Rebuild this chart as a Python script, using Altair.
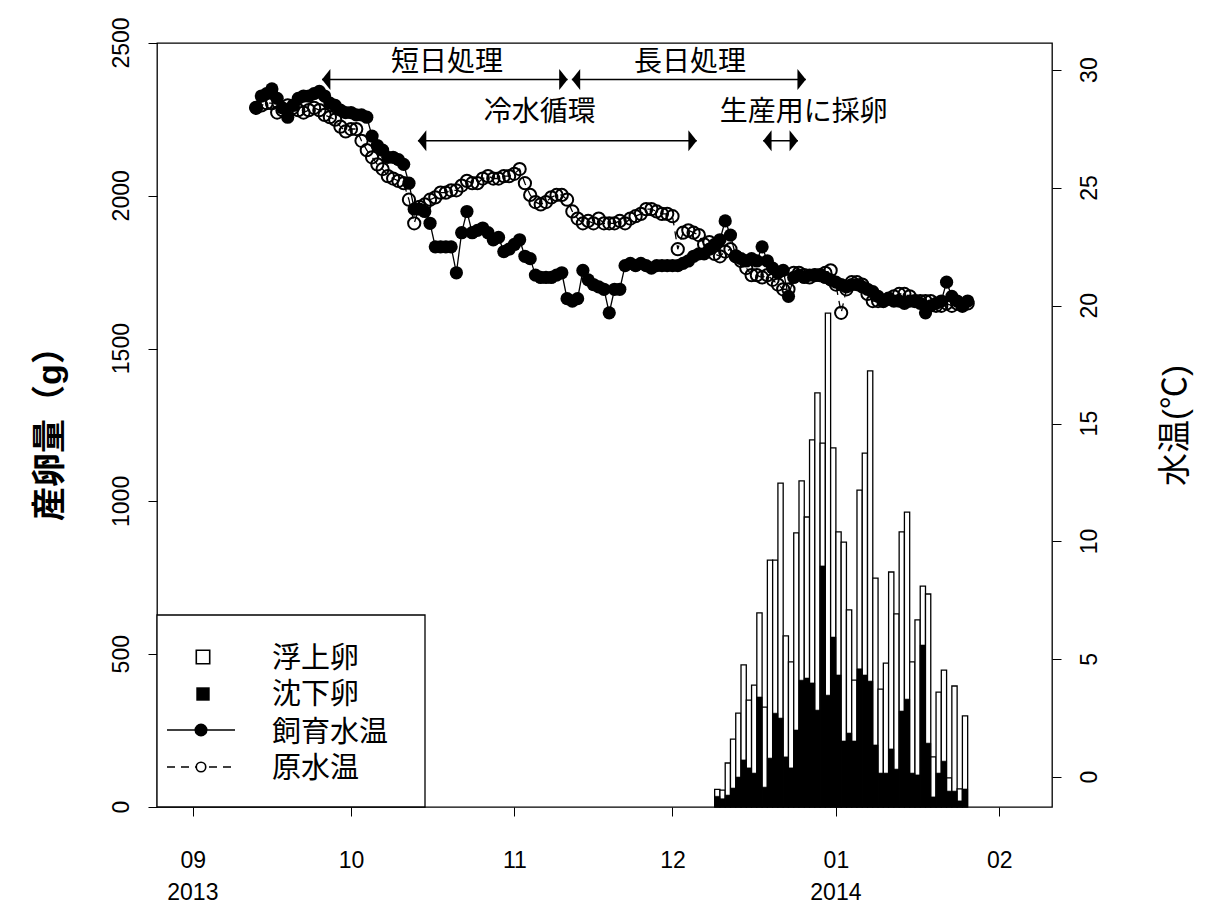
import altair as alt
import pandas as pd

FONT = "Liberation Sans, Noto Sans CJK JP, sans-serif"

# ---- x axis (days since 2013-09-01) ----
month_ticks = [0, 30, 61, 91, 122, 153]
month_labels = ["09", "10", "11", "12", "01", "02"]
year_days = [0, 122]
year_labels = ["2013", "2014"]
egg_ticks = [0, 500, 1000, 1500, 2000, 2500]
temp_ticks = [0, 5, 10, 15, 20, 25, 30]

# ---- water temperature (daily) ----
temp_days = list(range(12, 148))
reared_temp = [
    28.4, 28.9, 29.0, 29.2, 28.8, 28.4, 28.0, 28.5, 28.8, 28.9,
    28.9, 29.0, 29.1, 28.9, 28.6, 28.5, 28.3, 28.2, 28.2, 28.1,
    28.1, 28.0, 27.2, 26.8, 26.6, 26.3, 26.3, 26.2, 26.0, 25.2,
    24.1, 24.1, 24.0, 23.5, 22.5, 22.5, 22.5, 22.5, 21.4, 23.1,
    24.0, 23.1, 23.2, 23.3, 23.1, 22.8, 22.9, 22.3, 22.4, 22.6,
    22.8, 22.1, 22.0, 21.3, 21.2, 21.2, 21.2, 21.3, 21.4, 20.3,
    20.2, 20.3, 21.5, 21.1, 20.9, 20.8, 20.7, 19.7, 20.7, 20.7,
    21.7, 21.8, 21.7, 21.8, 21.7, 21.6, 21.7, 21.7, 21.7, 21.7,
    21.7, 21.8, 21.9, 22.1, 22.2, 22.2, 22.4, 22.6, 22.8, 23.6,
    23.0, 22.1, 22.0, 21.9, 22.0, 21.9, 22.5, 21.9, 21.6, 21.4,
    21.5, 20.4, 21.2, 21.3, 21.2, 21.3, 21.3, 21.3, 21.2, 21.1,
    21.0, 20.9, 20.8, 20.9, 20.9, 20.8, 20.7, 20.6, 20.4, 20.2,
    20.3, 20.2, 20.2, 20.1, 20.2, 20.2, 20.1, 19.7, 20.0, 20.1,
    20.2, 21.0, 20.4, 20.2, 20.0, 20.2,
]
raw_temp = [
    28.4, 28.5, 28.6, 28.6, 28.2, 28.3, 28.5, 28.4, 28.3, 28.2,
    28.3, 28.4, 28.3, 28.1, 28.0, 27.9, 27.6, 27.4, 27.5, 27.5,
    27.0, 26.6, 26.3, 26.0, 25.8, 25.5, 25.4, 25.3, 25.2, 24.5,
    23.5, 24.2, 24.3, 24.5, 24.6, 24.8, 24.8, 24.9, 24.9, 25.1,
    25.3, 25.2, 25.2, 25.4, 25.5, 25.4, 25.4, 25.5, 25.5, 25.6,
    25.8, 25.2, 24.7, 24.4, 24.3, 24.4, 24.6, 24.7, 24.7, 24.5,
    24.0, 23.7, 23.5, 23.6, 23.5, 23.7, 23.5, 23.5, 23.5, 23.6,
    23.5, 23.7, 23.8, 23.9, 24.1, 24.1, 24.0, 23.9, 23.9, 23.8,
    22.4, 23.1, 23.2, 23.1, 23.0, 22.6, 22.7, 22.2, 22.1, 22.3,
    22.4, 22.1, 21.9, 21.6, 21.3, 21.3, 21.2, 21.3, 21.1, 20.9,
    20.7, 20.7, 21.4, 21.4, 21.3, 21.2, 21.3, 21.3, 21.4, 21.5,
    20.9, 19.7, 20.7, 21.0, 21.0, 20.9, 20.5, 20.2, 20.2, 20.2,
    20.3, 20.4, 20.5, 20.5, 20.4, 20.2, 20.2, 20.2, 20.2, 20.0,
    20.0, 20.1, 20.0, 20.1, 20.0, 20.1,
]

# ---- egg amounts (g) ----
egg_days = list(range(99, 147))
floating_eggs = [
    23, 28, 105, 160, 209, 311, 222, 288, 275, 262,
    648, 501, 769, 396, 347, 645, 652, 527, 795, 1038,
    402, 1250, 619, 468, 651, 403, 199, 585, 726, 1015,
    546, 275, 360, 579, 508, 586, 612, 364, 507, 193,
    488, 131, 265, 298, 43, 344, 39, 239,
]
sinking_eggs = [
    35, 27, 39, 62, 98, 154, 128, 111, 360, 65,
    160, 307, 291, 164, 128, 252, 415, 422, 406, 317,
    789, 366, 556, 432, 216, 242, 216, 452, 432, 412,
    203, 111, 111, 190, 124, 314, 353, 111, 105, 530,
    209, 33, 111, 150, 52, 52, 20, 59,
]

# ---- annotations ----
arrow_labels = ["短日処理", "長日処理", "冷水循環", "生産用に採卵"]
arrow_start = [24.5, 71.9, 42.7, 108.2]
arrow_end = [71.1, 116.3, 95.6, 114.8]
arrow_temp = [29.6, 29.6, 27.0, 27.0]
label_day = [48.2, 94.3, 65.8, 115.9]
label_temp = [30.3, 30.3, 28.2, 28.2]

legend_labels = ["浮上卵", "沈下卵", "飼育水温", "原水温"]

# ---------------------------------------------------------------
df_temp = pd.DataFrame({"day": temp_days, "reared": reared_temp, "raw": raw_temp})
df_egg = pd.DataFrame({"day": egg_days, "floating": floating_eggs, "sinking": sinking_eggs})
df_egg["day_end"] = df_egg["day"] + 1
df_egg["total"] = df_egg["floating"] + df_egg["sinking"]
df_arrow = pd.DataFrame({"label": arrow_labels, "start": arrow_start, "end": arrow_end,
                         "temp": arrow_temp, "lday": label_day, "ltemp": label_temp})
df_year = pd.DataFrame({"day": year_days, "label": year_labels})
df_egg_ticks = pd.DataFrame({"v": egg_ticks, "t": [str(v) for v in egg_ticks]})
df_temp_ticks = pd.DataFrame({"v": temp_ticks, "t": [str(v) for v in temp_ticks]})

expr = "''"
for v, lab in zip(reversed(month_ticks), reversed(month_labels)):
    expr = f"datum.value == {v} ? '{lab}' : ({expr})"

x_scale = alt.Scale(domain=[-6.8, 163], nice=False, zero=False)
x_axis = alt.Axis(values=month_ticks, labelExpr=expr, title=None, domain=False, grid=False,
                  tickSize=9, tickColor="black", tickWidth=1, labelFont=FONT, labelFontSize=23,
                  labelColor="black", labelPadding=33, labelFlush=False, labelOverlap=False)

left_scale = alt.Scale(domain=[0, 2500], nice=False, zero=False)
left_axis = alt.Axis(values=egg_ticks, labels=False, title="産卵量（g）",
                     orient="left", domain=False, grid=False, tickSize=9, tickColor="black",
                     tickWidth=1, titleFont=FONT, titleFontSize=34,
                     titleFontWeight="bold", titleColor="black", titleAngle=270, titleX=-107,
                     titleY=382, titleAlign="center", titleBaseline="middle")

right_scale = alt.Scale(domain=[-1.27, 31.15], nice=False, zero=False)
right_axis = alt.Axis(values=temp_ticks, labels=False, title="水温(℃)", orient="right",
                      domain=False, grid=False, tickSize=9, tickColor="black", tickWidth=1,
                      titleFont=FONT, titleFontSize=33, titleFontWeight="normal",
                      titleColor="black", titleAngle=270, titleX=123, titleY=382,
                      titleAlign="center", titleBaseline="middle")

X = alt.X("day:Q", scale=x_scale, axis=x_axis)

# ---- left group: bars, legend, year labels ----
white_bars = alt.Chart(df_egg).mark_rect(fill="white", stroke="black", strokeWidth=1.3).encode(
    x=X, x2="day_end:Q", y=alt.Y("total:Q", scale=left_scale, axis=left_axis), y2=alt.datum(0))
black_bars = alt.Chart(df_egg).mark_rect(fill="black", stroke="black", strokeWidth=0.6).encode(
    x=X, x2="day_end:Q", y=alt.Y("sinking:Q", scale=left_scale, axis=left_axis), y2=alt.datum(0))

left_labels = alt.Chart(df_egg_ticks).mark_text(
    font=FONT, fontSize=23, angle=270, align="center", baseline="middle", color="black").encode(
    x=alt.value(-35), y=alt.Y("v:Q", scale=left_scale, axis=left_axis), text="t:N")

years = alt.Chart(df_year).mark_text(font=FONT, fontSize=23, baseline="middle", align="center",
                                     color="black").encode(x=X, y=alt.value(850), text="label:N")

one = pd.DataFrame({"k": [0]})
legend_layers = [
    alt.Chart(one).mark_rect(fill="white", stroke="black", strokeWidth=1.3).encode(
        x=alt.value(0), x2=alt.value(268), y=alt.value(572), y2=alt.value(764)),
    alt.Chart(one).mark_point(shape="square", size=180, filled=True, fill="white",
                              stroke="black", strokeWidth=1.6, opacity=1).encode(
        x=alt.value(46), y=alt.value(614)),
    alt.Chart(one).mark_point(shape="square", size=180, filled=True, color="black", opacity=1).encode(
        x=alt.value(46), y=alt.value(651)),
    alt.Chart(one).mark_rule(color="black", strokeWidth=1.6).encode(
        x=alt.value(10), x2=alt.value(78), y=alt.value(687)),
    alt.Chart(one).mark_point(shape="circle", size=170, filled=True, color="black", opacity=1).encode(
        x=alt.value(44), y=alt.value(687)),
    alt.Chart(one).mark_rule(color="black", strokeWidth=1.6, strokeDash=[8, 6]).encode(
        x=alt.value(10), x2=alt.value(80), y=alt.value(724)),
    alt.Chart(one).mark_point(shape="circle", size=90, filled=True, fill="white", stroke="black",
                              strokeWidth=1.6, opacity=1).encode(
        x=alt.value(44), y=alt.value(724)),
]
for i, lab in enumerate(legend_labels):
    legend_layers.append(
        alt.Chart(pd.DataFrame({"t": [lab]})).mark_text(
            font=FONT, fontSize=29, align="left", baseline="middle", color="black").encode(
            x=alt.value(115), y=alt.value([616, 652, 690, 726][i]), text="t:N"))

left_group = alt.layer(white_bars, black_bars, left_labels, years, *legend_layers)

# ---- right group: temperatures and annotations ----
raw_line = alt.Chart(df_temp).mark_line(color="black", strokeWidth=1.3, strokeDash=[8, 6]).encode(
    x=X, y=alt.Y("raw:Q", scale=right_scale, axis=right_axis))
raw_pts = alt.Chart(df_temp).mark_point(shape="circle", size=150, filled=False, color="black",
                                        strokeWidth=2, opacity=1).encode(
    x=X, y=alt.Y("raw:Q", scale=right_scale, axis=right_axis))
reared_line = alt.Chart(df_temp).mark_line(color="black", strokeWidth=1.3).encode(
    x=X, y=alt.Y("reared:Q", scale=right_scale, axis=right_axis))
reared_pts = alt.Chart(df_temp).mark_point(shape="circle", size=175, filled=True, color="black",
                                           opacity=1).encode(
    x=X, y=alt.Y("reared:Q", scale=right_scale, axis=right_axis))

right_labels = alt.Chart(df_temp_ticks).mark_text(
    font=FONT, fontSize=23, angle=270, align="center", baseline="middle", color="black").encode(
    x=alt.value(933), y=alt.Y("v:Q", scale=right_scale, axis=right_axis), text="t:N")

arrows = alt.Chart(df_arrow).mark_rule(color="black", strokeWidth=1.5).encode(
    x=alt.X("start:Q", scale=x_scale, axis=x_axis), x2="end:Q",
    y=alt.Y("temp:Q", scale=right_scale, axis=right_axis))
head_l = alt.Chart(df_arrow).mark_point(shape="M0,0L0.8,-1L0.8,1Z", size=440, filled=True,
                                        color="black", opacity=1, strokeWidth=0).encode(
    x=alt.X("start:Q", scale=x_scale, axis=x_axis),
    y=alt.Y("temp:Q", scale=right_scale, axis=right_axis))
head_r = alt.Chart(df_arrow).mark_point(shape="M0,0L-0.8,-1L-0.8,1Z", size=440, filled=True,
                                        color="black", opacity=1, strokeWidth=0).encode(
    x=alt.X("end:Q", scale=x_scale, axis=x_axis),
    y=alt.Y("temp:Q", scale=right_scale, axis=right_axis))
arrow_text = alt.Chart(df_arrow).mark_text(font=FONT, fontSize=28, align="center",
                                           baseline="middle", color="black").encode(
    x=alt.X("lday:Q", scale=x_scale, axis=x_axis),
    y=alt.Y("ltemp:Q", scale=right_scale, axis=right_axis), text="label:N")

right_group = alt.layer(raw_line, raw_pts, reared_line, reared_pts, right_labels,
                        arrows, head_l, head_r, arrow_text)

chart = alt.layer(left_group, right_group).resolve_scale(y="independent").properties(
    width=895, height=764,
    padding={"left": 149, "top": 35, "right": 150, "bottom": 110},
    autosize=alt.AutoSizeParams(type="none"),
    background="white",
).configure_view(stroke="black", strokeWidth=1.3)

chart.save("out.html", embed_options={"renderer": "svg", "actions": False})
